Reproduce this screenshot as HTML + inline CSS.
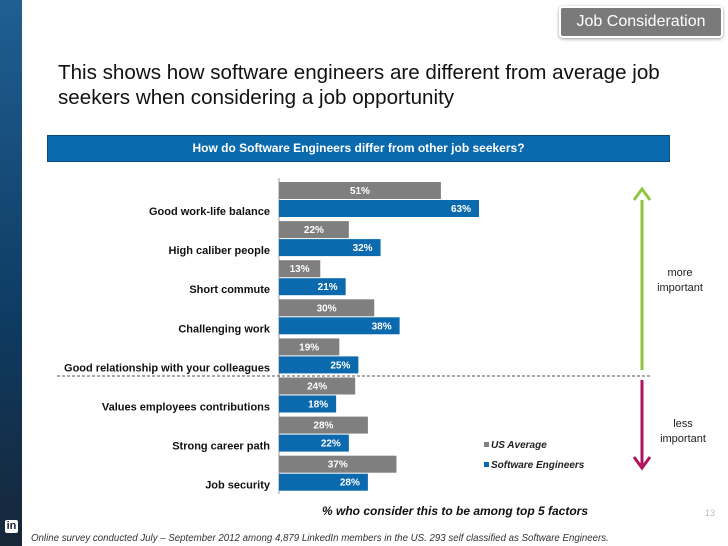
<!DOCTYPE html>
<html><head><meta charset="utf-8"><style>
body{margin:0;width:728px;height:546px;background:#fff;position:relative;overflow:hidden;font-family:"Liberation Sans",sans-serif}
.abs{position:absolute}
</style></head><body>
<div class="abs" style="left:0;top:0;width:22px;height:546px;background:linear-gradient(#1f5f92,#0e3a60 60%,#172638)"></div>
<div class="abs" style="left:5px;top:520px;width:13px;height:13px;background:#fff;color:#172638;font:bold 11px 'Liberation Sans',sans-serif;line-height:13px;text-align:center;border-radius:2px">in</div>
<div class="abs" style="left:559px;top:6px;width:160px;height:28px;background:#7a7a7a;border:2px solid #fff;box-shadow:0 1px 3px #999;border-radius:4px;color:#fff;font-size:16px;line-height:28px;text-align:center">Job Consideration</div>
<div class="abs" style="left:58px;top:60px;font-size:20.6px;line-height:25px;color:#111">This shows how software engineers are different from average job<br>seekers when considering a job opportunity</div>
<div class="abs" style="left:47px;top:135px;width:621px;height:25px;background:#0a6aad;border:1px solid #0a4d80;color:#fff;font-weight:bold;font-size:12px;line-height:25px;text-align:center">How do Software Engineers differ from other job seekers?</div>
<svg class="abs" style="left:0;top:0" width="728" height="546" id="chart">
<line x1="279" y1="178" x2="279" y2="494" stroke="#999" stroke-width="1"/>
<line x1="57" y1="376" x2="652" y2="376" stroke="#555" stroke-dasharray="3,2"/>
<g>
<line x1="642" y1="200" x2="642" y2="370" stroke="#8dc63f" stroke-width="3"/>
<path d="M634,200 L642,189 L650,200" fill="none" stroke="#8dc63f" stroke-width="3"/>
</g>
<g>
<line x1="642" y1="380" x2="642" y2="465" stroke="#b0145e" stroke-width="3"/>
<path d="M634,457 L642,468 L650,457" fill="none" stroke="#b0145e" stroke-width="3"/>
</g>
<text x="680" y="276" font-size="11" text-anchor="middle" fill="#222">more</text>
<text x="680" y="291" font-size="11" text-anchor="middle" fill="#222">important</text>
<text x="683" y="427" font-size="11" text-anchor="middle" fill="#222">less</text>
<text x="683" y="442" font-size="11" text-anchor="middle" fill="#222">important</text>
<g>
<rect x="484" y="442" width="5" height="5" fill="#7f7f7f"/>
<text x="491" y="448" font-size="10" font-weight="bold" font-style="italic" fill="#222">US Average</text>
<rect x="484" y="462" width="5" height="5" fill="#0a6aad"/>
<text x="491" y="468" font-size="10" font-weight="bold" font-style="italic" fill="#222">Software Engineers</text>
</g>
<text x="455" y="515" font-size="12" font-weight="bold" font-style="italic" text-anchor="middle" fill="#111">% who consider this to be among top 5 factors</text>
<text x="705" y="516" font-size="9" fill="#bbb">13</text>
<text x="31" y="541" font-size="9.7" font-style="italic" fill="#333">Online survey conducted July – September 2012 among 4,879 LinkedIn members in the US.  293 self classified as Software Engineers.</text>
<g id="bars"></g>
</svg>
<script>
const categories=["Good work-life balance","High caliber people","Short commute","Challenging work","Good relationship with your colleagues","Values employees contributions","Strong career path","Job security"];
const usAverage=[51,22,13,30,19,24,28,37];
const softwareEngineers=[63,32,21,38,25,18,22,28];
const NS="http://www.w3.org/2000/svg";
const g=document.getElementById("bars");
const x0=279,scale=200/63,top0=182,pitch=39.1,bh=17;
function xs(v){return v*scale;}
function mk(tag,attrs){const e=document.createElementNS(NS,tag);for(const k in attrs)e.setAttribute(k,attrs[k]);return e;}
categories.forEach((c,i)=>{
  const y=top0+i*pitch;
  const r1=mk("rect",{x:x0,y:y,width:xs(usAverage[i]),height:bh,fill:"#7f7f7f"});
  
  
  g.appendChild(r1);
  const t1=mk("text",{x:x0+xs(usAverage[i])/2,y:y+12,"font-size":10,"font-weight":"bold",fill:"#fff","text-anchor":"middle"});
  t1.textContent=usAverage[i]+"%";
  
  
  g.appendChild(t1);
  const r2=mk("rect",{x:x0,y:y+bh+1,width:xs(softwareEngineers[i]),height:bh,fill:"#0a6aad"});
  
  
  g.appendChild(r2);
  const t2=mk("text",{x:x0+xs(softwareEngineers[i])-8,y:y+bh+13,"font-size":10,"font-weight":"bold",fill:"#fff","text-anchor":"end"});
  t2.textContent=softwareEngineers[i]+"%";
  
  
  g.appendChild(t2);
  const l=mk("text",{x:270,y:y+bh+16,"font-size":11,"font-weight":"bold",fill:"#111","text-anchor":"end"});
  l.textContent=c;
  
  
  g.appendChild(l);
});
</script>
</body></html>
